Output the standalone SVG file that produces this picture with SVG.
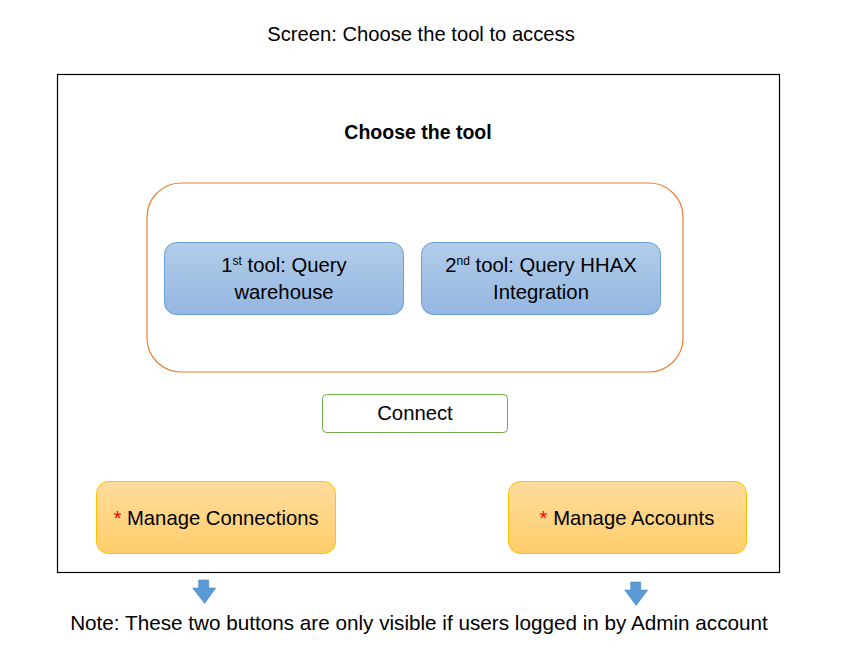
<svg xmlns="http://www.w3.org/2000/svg" width="852" height="653" viewBox="0 0 852 653">
<style>
text{font-family:"Liberation Sans",Arial,sans-serif;fill:#000}
.t{font-size:20.2px}
.n{font-size:20.7px}
.b{font-size:20.3px;text-anchor:middle}
.blue{fill:url(#gb);stroke:#6a9fd6;stroke-width:1}
.org{fill:url(#go);stroke:#ffc000;stroke-width:1}
.arr{fill:#5b9bd5;stroke:#4a86c0;stroke-width:0.6}
</style>
<defs>
<linearGradient id="gb" x1="0" y1="0" x2="0" y2="1"><stop offset="0" stop-color="#b3cdea"/><stop offset="1" stop-color="#94b6e1"/></linearGradient>
<linearGradient id="go" x1="0" y1="0" x2="0" y2="1"><stop offset="0" stop-color="#ffdc9c"/><stop offset="1" stop-color="#ffce6c"/></linearGradient>
</defs>
<rect width="852" height="653" fill="#fff"/>
<text class="t" x="421" y="41" text-anchor="middle">Screen: Choose the tool to access</text>
<g id="screen"><rect x="57.5" y="74.5" width="722" height="498" fill="#fff" stroke="#000" stroke-width="1.2"/></g>
<text x="418" y="139" text-anchor="middle" font-size="19.5" font-weight="bold">Choose the tool</text>
<g id="toolgroup"><rect x="147" y="183" width="536" height="189" rx="34" fill="none" stroke="#ed7d31" stroke-width="1.2"/></g>
<g id="tool1"><rect class="blue" x="164.5" y="242.5" width="239" height="72" rx="12"/>
<text class="b" x="284" y="272">1<tspan font-size="12" dy="-7">st</tspan><tspan dy="7"> tool: Query</tspan></text>
<text class="b" x="284" y="299">warehouse</text></g>
<g id="tool2"><rect class="blue" x="421.5" y="242.5" width="239" height="72" rx="12"/>
<text class="b" x="541" y="272">2<tspan font-size="12" dy="-7">nd</tspan><tspan dy="7"> tool: Query HHAX</tspan></text>
<text class="b" x="541" y="299">Integration</text></g>
<g id="connect"><rect x="322.5" y="394.5" width="185" height="38" rx="4" fill="#fff" stroke="#70ad47" stroke-width="1"/>
<text class="b" x="415" y="420">Connect</text></g>
<g id="manageConnections"><rect class="org" x="96.5" y="481.5" width="239" height="72" rx="12"/>
<text class="b" x="216" y="525"><tspan fill="#ff0000">*</tspan> Manage Connections</text></g>
<g id="manageAccounts"><rect class="org" x="508.5" y="481.5" width="238" height="72" rx="12"/>
<text class="b" x="627" y="525"><tspan fill="#ff0000">*</tspan> Manage Accounts</text></g>
<g id="connectors">
<path class="arr" d="M198.7 580 H208.7 V588 H215.7 L204.7 603.5 L192.7 588 H198.7 Z"/>
<path class="arr" d="M630.7 582 H640.7 V590 H647.7 L636.2 605.5 L624.7 590 H630.7 Z"/>
</g>
<text class="n" x="419" y="630" text-anchor="middle">Note: These two buttons are only visible if users logged in by Admin account</text>
</svg>
